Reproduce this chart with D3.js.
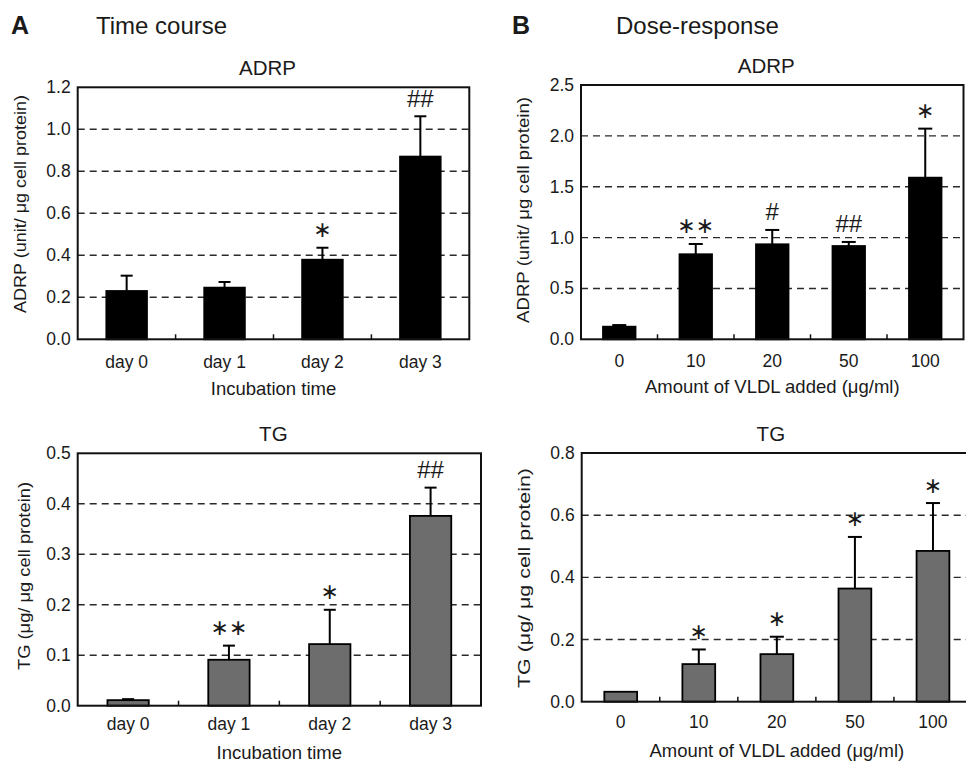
<!DOCTYPE html>
<html>
<head>
<meta charset="utf-8">
<script src="https://cdn.jsdelivr.net/npm/d3@7"></script>
<style>
  html, body { margin: 0; padding: 0; background: #fff; }
  svg text { font-family: "Liberation Sans", Arial, Helvetica, sans-serif; fill: #1a1a1a; }
</style>
</head>
<body>
<svg id="chart" width="966" height="763"></svg>
<script>
// ---------------- DATA ----------------
const timeCategories = ["day 0", "day 1", "day 2", "day 3"];
const doseCategories = ["0", "10", "20", "50", "100"];

const adrpTimeMean = [0.230, 0.246, 0.379, 0.870];
const adrpTimeSD   = [0.073, 0.027, 0.057, 0.192];
const adrpTimeSig  = ["", "", "*", "##"];

const tgTimeMean = [0.011, 0.091, 0.122, 0.376];
const tgTimeSD   = [0.002, 0.028, 0.068, 0.056];
const tgTimeSig  = ["", "**", "*", "##"];

const adrpDoseMean = [0.124, 0.836, 0.934, 0.917, 1.589];
const adrpDoseSD   = [0.016, 0.101, 0.141, 0.040, 0.482];
const adrpDoseSig  = ["", "**", "#", "##", "*"];

const tgDoseMean = [0.032, 0.121, 0.153, 0.364, 0.485];
const tgDoseSD   = [0.000, 0.047, 0.056, 0.166, 0.154];
const tgDoseSig  = ["", "*", "*", "*", "*"];

const adrpTimeTicks = [0, 0.2, 0.4, 0.6, 0.8, 1.0, 1.2];
const tgTimeTicks   = [0, 0.1, 0.2, 0.3, 0.4, 0.5];
const adrpDoseTicks = [0, 0.5, 1.0, 1.5, 2.0, 2.5];
const tgDoseTicks   = [0, 0.2, 0.4, 0.6, 0.8];

// ---------------- LAYOUT ----------------
const svg = d3.select("#chart");

const panels = [
  { title: "ADRP", cats: timeCategories, mean: adrpTimeMean, sd: adrpTimeSD, sig: adrpTimeSig,
    ticks: adrpTimeTicks, fill: "#000",
    left: 77.7, right: 469.3, top: 87.3, bottom: 339.3, barFrac: 0.415, cap: 12,
    yTitle: "ADRP (unit/ \u03bcg cell protein)", yTitleX: 20, yTitleY: 204, yTitleLen: 218,
    xTitle: "Incubation time", xTitleDy: 55.5, catDy: 28.5 },
  { title: "TG", cats: timeCategories, mean: tgTimeMean, sd: tgTimeSD, sig: tgTimeSig,
    ticks: tgTimeTicks, fill: "#6d6d6d",
    left: 77.7, right: 481, top: 453.3, bottom: 705.7, barFrac: 0.41, cap: 12,
    yTitle: "TG (\u03bcg/ \u03bcg cell protein)", yTitleX: 24, yTitleY: 576, yTitleLen: 188,
    xTitle: "Incubation time", xTitleDy: 53.5, catDy: 24.5 },
  { title: "ADRP", cats: doseCategories, mean: adrpDoseMean, sd: adrpDoseSD, sig: adrpDoseSig,
    ticks: adrpDoseTicks, fill: "#000",
    left: 581, right: 963.5, top: 85, bottom: 339.3, barFrac: 0.425, cap: 14,
    yTitle: "ADRP (unit/ \u03bcg cell protein)", yTitleX: 523, yTitleY: 210, yTitleLen: 226,
    xTitle: "Amount of VLDL added (\u03bcg/ml)", xTitleDy: 54, catDy: 27.5 },
  { title: "TG", cats: doseCategories, mean: tgDoseMean, sd: tgDoseSD, sig: tgDoseSig,
    ticks: tgDoseTicks, fill: "#6d6d6d",
    left: 581.7, right: 972, top: 453, bottom: 701.7, barFrac: 0.42, cap: 14,
    yTitle: "TG (\u03bcg/ \u03bcg cell protein)", yTitleX: 524, yTitleY: 578, yTitleLen: 220,
    xTitle: "Amount of VLDL added (\u03bcg/ml)", xTitleDy: 55, catDy: 26.5 }
];

// Panel letters and headings
svg.append("text").attr("x", 11).attr("y", 33.5).attr("font-size", 25).attr("font-weight", "bold").text("A");
svg.append("text").attr("x", 96).attr("y", 34).attr("font-size", 24).text("Time course");
svg.append("text").attr("x", 512).attr("y", 33.5).attr("font-size", 25).attr("font-weight", "bold").text("B");
svg.append("text").attr("x", 616).attr("y", 34).attr("font-size", 24).text("Dose-response");

panels.forEach(p => {
  const g = svg.append("g");
  const x = d3.scaleBand().domain(p.cats).range([p.left, p.right])
    .paddingInner(1 - p.barFrac).paddingOuter((1 - p.barFrac) / 2);
  const y = d3.scaleLinear().domain([p.ticks[0], p.ticks[p.ticks.length - 1]]).range([p.bottom, p.top]);
  const step = x.step();

  // dashed gridlines (interior ticks only)
  g.selectAll("line.grid").data(p.ticks.slice(1, -1)).join("line")
    .attr("x1", p.left).attr("x2", p.right)
    .attr("y1", d => y(d)).attr("y2", d => y(d))
    .attr("stroke", "#2a2a2a").attr("stroke-width", 1.4).attr("stroke-dasharray", "7,5");

  const data = p.cats.map((c, i) => ({ c, m: p.mean[i], s: p.sd[i], sig: p.sig[i] }));

  // bars
  g.selectAll("rect.bar").data(data).join("rect")
    .attr("x", d => x(d.c)).attr("width", x.bandwidth())
    .attr("y", d => y(d.m)).attr("height", d => y(0) - y(d.m))
    .attr("fill", p.fill).attr("stroke", "#000").attr("stroke-width", 1.8);

  // error bars (upper only)
  const eb = data.filter(d => d.s > 0);
  g.selectAll("line.err").data(eb).join("line")
    .attr("x1", d => x(d.c) + x.bandwidth() / 2).attr("x2", d => x(d.c) + x.bandwidth() / 2)
    .attr("y1", d => y(d.m)).attr("y2", d => y(d.m + d.s))
    .attr("stroke", "#000").attr("stroke-width", 2);
  g.selectAll("line.cap").data(eb).join("line")
    .attr("x1", d => x(d.c) + x.bandwidth() / 2 - p.cap / 2).attr("x2", d => x(d.c) + x.bandwidth() / 2 + p.cap / 2)
    .attr("y1", d => y(d.m + d.s)).attr("y2", d => y(d.m + d.s))
    .attr("stroke", "#000").attr("stroke-width", 2);

  // significance marks
  g.selectAll("text.sig").data(data.filter(d => d.sig)).join("text")
    .attr("x", d => x(d.c) + x.bandwidth() / 2)
    .attr("y", d => y(d.m + d.s) - 18)
    .attr("text-anchor", "middle").attr("dominant-baseline", "central")
    .style("font-family", d => d.sig.includes("*") ? "'DejaVu Sans', sans-serif" : "'Liberation Sans', Arial, sans-serif")
    .attr("font-size", d => d.sig.includes("*") ? 22 : 24)
    .attr("fill", "#2a2a2a")
    .text(d => d.sig.replace(/\*/g, "\u2217"));

  // frame
  g.append("rect").attr("x", p.left).attr("y", p.top)
    .attr("width", p.right - p.left).attr("height", p.bottom - p.top)
    .attr("fill", "none").attr("stroke", "#111").attr("stroke-width", 2);

  // x axis inward ticks at category boundaries
  const bounds = p.cats.slice(1).map(c => x(c) - step * (1 - p.barFrac) / 2);
  g.selectAll("line.xt").data(bounds).join("line")
    .attr("x1", d => d).attr("x2", d => d).attr("y1", p.bottom).attr("y2", p.bottom - 5)
    .attr("stroke", "#111").attr("stroke-width", 1.5);

  // y tick labels
  g.selectAll("text.yl").data(p.ticks).join("text")
    .attr("x", p.left - 7).attr("y", d => y(d))
    .attr("text-anchor", "end").attr("dominant-baseline", "central")
    .attr("font-size", 17.5).text(d => d3.format(".1f")(d));

  // x category labels
  g.selectAll("text.xl").data(p.cats).join("text")
    .attr("x", d => x(d) + x.bandwidth() / 2).attr("y", p.bottom + p.catDy)
    .attr("text-anchor", "middle").attr("font-size", 17.5).text(d => d);

  // x title
  g.append("text").attr("x", (p.left + p.right) / 2).attr("y", p.bottom + p.xTitleDy)
    .attr("text-anchor", "middle").attr("font-size", 18.5).text(p.xTitle);

  // chart title
  g.append("text").attr("x", (p.left + p.right) / 2 - 6).attr("y", p.top - 12)
    .attr("text-anchor", "middle").attr("font-size", 20.5).text(p.title);

  // y title
  g.append("text")
    .attr("transform", `translate(${p.yTitleX},${p.yTitleY}) rotate(-90)`)
    .attr("text-anchor", "middle").attr("dominant-baseline", "central")
    .attr("font-size", 17)
    .attr("textLength", p.yTitleLen).attr("lengthAdjust", "spacingAndGlyphs")
    .text(p.yTitle);
});
</script>
</body>
</html>
